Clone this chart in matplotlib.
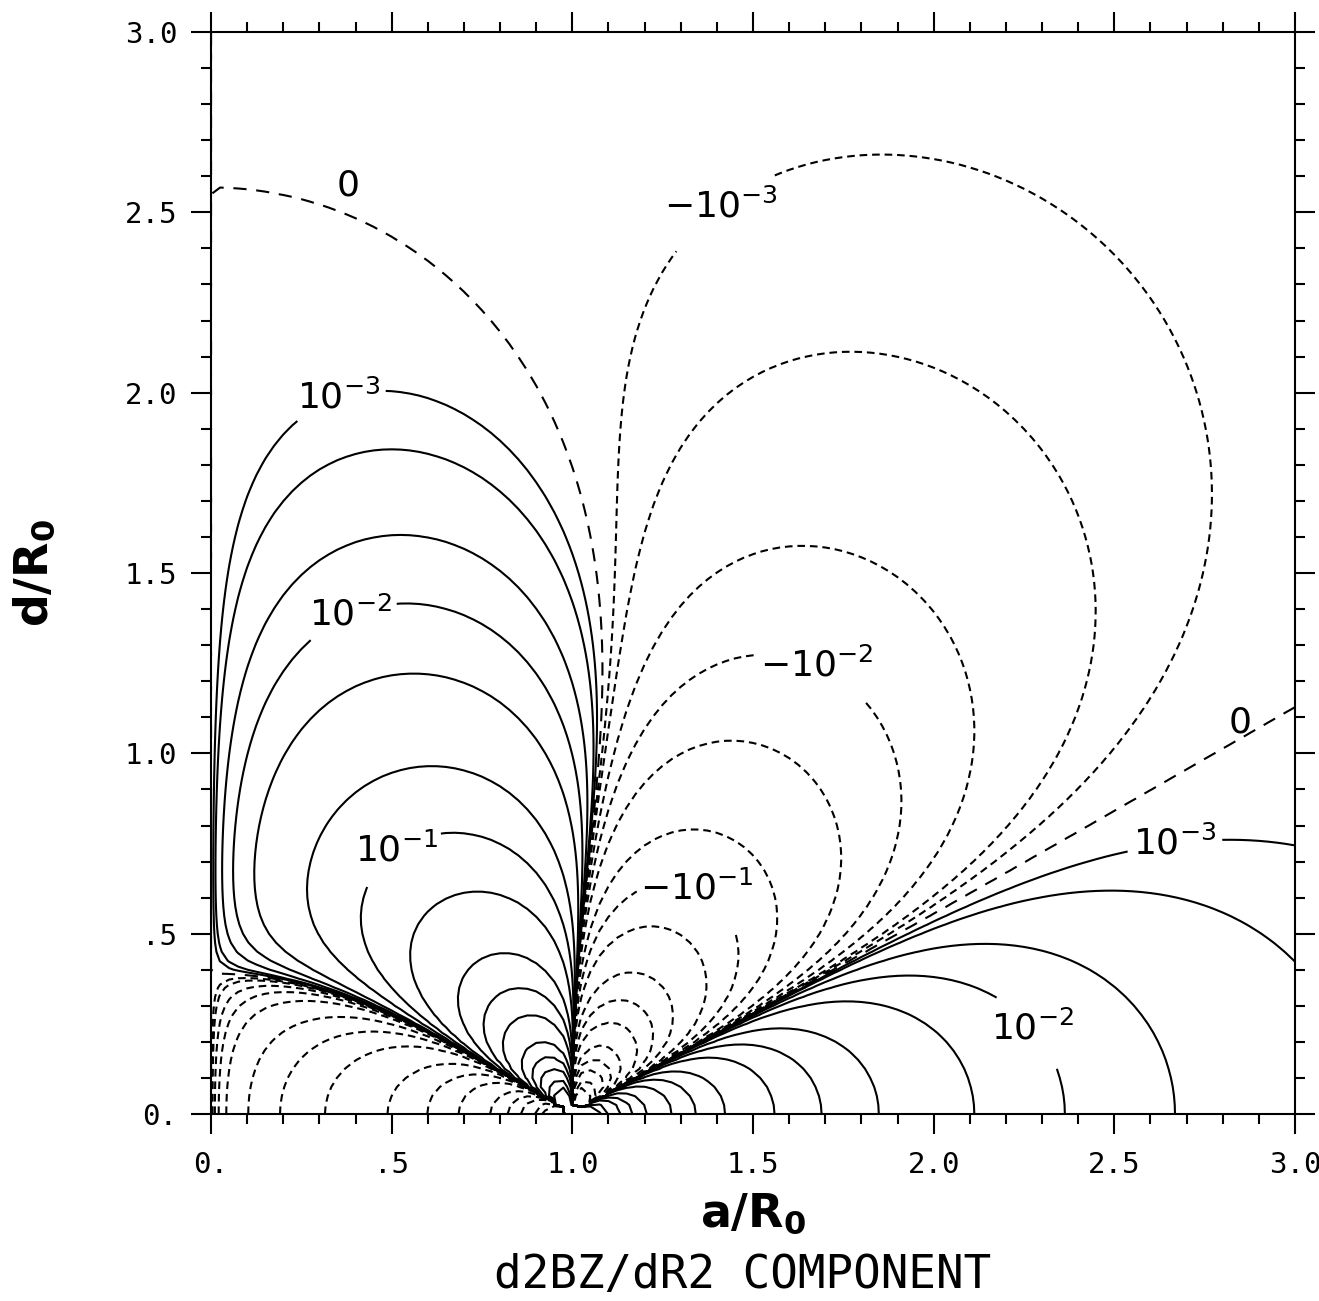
import numpy as np
import matplotlib
matplotlib.use('Agg')
import matplotlib.pyplot as plt
from matplotlib.ticker import FixedLocator, FixedFormatter, MultipleLocator

plt.rcParams['lines.scale_dashes'] = False
plt.rcParams['mathtext.fontset'] = 'dejavusans'

# contour levels: 1-2-5 per decade, same magnitudes for the negative side
POS_LEVELS = [1e-3, 2e-3, 5e-3, 1e-2, 2e-2, 5e-2, 1e-1, 2e-1, 5e-1, 1, 2, 5, 10, 20, 50, 100]
NEG_LEVELS = [-v for v in POS_LEVELS[::-1]]
ZERO_LEVEL = [0]

# which contours carry a label
POS_LABELED = [1e-3, 1e-2, 1e-1]
NEG_LABELED = [-1e-1, -1e-2, -1e-3]

XTICKS = [0.0, 0.5, 1.0, 1.5, 2.0, 2.5, 3.0]
XTICK_LABELS = ['0.', '.5', '1.0', '1.5', '2.0', '2.5', '3.0']
YTICKS = [0.0, 0.5, 1.0, 1.5, 2.0, 2.5, 3.0]
YTICK_LABELS = ['0.', '.5', '1.0', '1.5', '2.0', '2.5', '3.0']

# normalisation of the field values
SCALE = 0.0125


def d2bz_dr2(a, d, r0=1.0, n_phi=1000):
    # d2Bz/dR2 at radius r0 and height d, ring of radius a, Biot-Savart integral over the ring
    phi = (np.arange(n_phi) + 0.5) * np.pi / n_phi
    out = np.zeros(np.broadcast(a, d).shape)
    for c in np.cos(phi):
        n = a - r0 * c
        p = r0 - a * c
        dd = a * a + r0 * r0 + d * d - 2 * a * r0 * c
        out += ((6 * c * p - 3 * n) * dd + 15 * n * p * p) * dd ** -3.5
    return SCALE * 2 * out * np.pi / n_phi


def level_text(v):
    if v == 0:
        return '0'
    e = int(round(np.log10(abs(v))))
    sign = '-' if v < 0 else ''
    return r'$%s10^{%d}$' % (sign, e)


a = np.linspace(0, 3, 121)
d = np.linspace(0, 3, 121)
A, D = np.meshgrid(a, d)
Z = d2bz_dr2(A, D)

fig = plt.figure(figsize=(13.19, 13.01), dpi=100)
ax = fig.add_axes([0.16, 0.1437, 0.8218, 0.8317])

lw = 1.5
neg_style = [(0, (5.5, 3.5))]
# labelled levels get their own contour sets so clabel only snaps to them
pos_plain = [v for v in POS_LEVELS if v not in POS_LABELED]
neg_plain = [v for v in NEG_LEVELS if v not in NEG_LABELED]
ax.contour(A, D, Z, levels=pos_plain, colors='k', linewidths=lw)
ax.contour(A, D, Z, levels=neg_plain, colors='k', linewidths=lw, linestyles=neg_style)
cs_pos = ax.contour(A, D, Z, levels=POS_LABELED, colors='k', linewidths=lw)
cs_neg = ax.contour(A, D, Z, levels=NEG_LABELED, colors='k', linewidths=lw, linestyles=neg_style)
ax.contour(A, D, Z, levels=ZERO_LEVEL, colors='k', linewidths=lw, linestyles=[(0, (9.5, 7))])

lab_kw = dict(inline=True, inline_spacing=6, fontsize=26, colors='k')
pos_txt = ax.clabel(cs_pos, fmt={v: level_text(v) for v in POS_LABELED},
                    manual=[(0.357, 1.974), (0.407, 1.336), (0.537, 0.699),
                            (2.668, 0.743), (2.294, 0.255)], **lab_kw)
neg_txt = ax.clabel(cs_neg, fmt={v: level_text(v) for v in NEG_LABELED},
                    manual=[(1.375, 2.562), (1.680, 1.253), (1.359, 0.660)], **lab_kw)
for t in list(pos_txt) + list(neg_txt):
    t.set_rotation(0)

# zero contour is marked just above the dashed line
for x, y in [(0.379, 2.575), (2.848, 1.085)]:
    ax.text(x, y, level_text(ZERO_LEVEL[0]), fontsize=26, ha='center', va='center')

ax.set_xlim(0, 3)
ax.set_ylim(0, 3)
ax.xaxis.set_major_locator(FixedLocator(XTICKS))
ax.xaxis.set_major_formatter(FixedFormatter(XTICK_LABELS))
ax.yaxis.set_major_locator(FixedLocator(YTICKS))
ax.yaxis.set_major_formatter(FixedFormatter(YTICK_LABELS))
ax.xaxis.set_minor_locator(MultipleLocator(0.1))
ax.yaxis.set_minor_locator(MultipleLocator(0.1))
ax.tick_params(which='both', direction='out', top=True, right=True, width=1.5)
ax.tick_params(which='major', length=14.4)
ax.tick_params(which='minor', length=7.2)
ax.tick_params(axis='x', which='major', pad=12)
ax.tick_params(axis='y', which='major', pad=10)
for lbl in ax.get_xticklabels() + ax.get_yticklabels():
    lbl.set_family('DejaVu Sans Mono')
    lbl.set_fontsize(21)
for s in ax.spines.values():
    s.set_linewidth(1.5)

ax.set_xlabel(r'$\mathbf{a/R_0}$', fontsize=33)
ax.xaxis.set_label_coords(0.5, -0.092)
ax.xaxis.label.set_va('center')
ax.set_ylabel(r'$\mathbf{d/R_0}$', fontsize=33)
ax.yaxis.set_label_coords(-0.163, 0.5)
ax.yaxis.label.set_va('center')

fig.text(0.563, 0.0195, 'd2BZ/dR2 COMPONENT', family='DejaVu Sans Mono', fontsize=33,
         ha='center', va='center')

fig.savefig('out.png', dpi=100)
